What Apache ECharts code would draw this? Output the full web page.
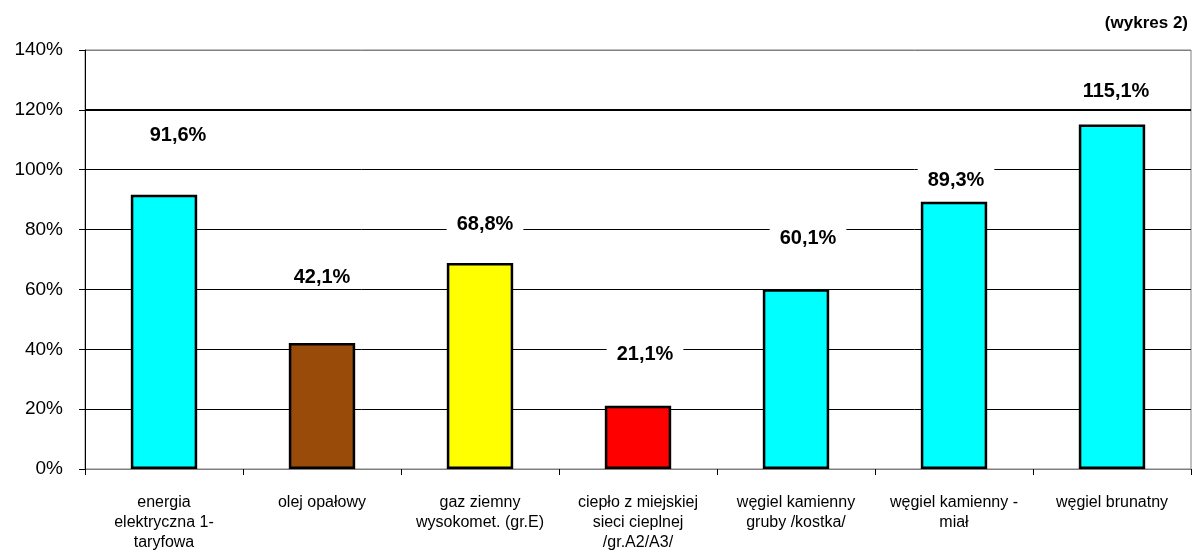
<!DOCTYPE html>
<html>
<head>
<meta charset="utf-8">
<script src="https://cdn.jsdelivr.net/npm/echarts@6/dist/echarts.min.js"></script>
<style>
html,body{margin:0;padding:0;background:#fff;}
#main{width:1193px;height:553px;}
</style>
</head>
<body>
<div id="main"></div>
<script>
const categories = [
  "energia\nelektryczna 1-\ntaryfowa",
  "olej opałowy",
  "gaz ziemny\nwysokomet. (gr.E)",
  "ciepło z miejskiej\nsieci cieplnej\n/gr.A2/A3/",
  "węgiel kamienny\ngruby /kostka/",
  "węgiel kamienny -\nmiał",
  "węgiel brunatny"
];
const values = [91.6, 42.1, 68.8, 21.1, 60.1, 89.3, 115.1];
const barColors = ["#00FFFF", "#994C0A", "#FFFF00", "#FF0000", "#00FFFF", "#00FFFF", "#00FFFF"];
const yTicks = [0, 20, 40, 60, 80, 100, 120, 140];
const noteText = "(wykres 2)";

// label placement tweaks (pixels): [dx, lift above bar top]
const labelShift = [[14, 47], [0, 54], [5, 27], [7, 39], [12, 39], [2, 9], [4, 21]];

const chart = echarts.init(document.getElementById('main'));
const option = {
  animation: false,
  backgroundColor: '#fff',
  graphic: [{
    type: 'text', right: 5, top: 15,
    style: { text: noteText, font: 'bold 17px "Liberation Sans", Arial, sans-serif', fill: '#000' }
  }],
  grid: { left: 85, right: 2, top: 50, bottom: 83, show: true, borderColor: '#808080', borderWidth: 1, backgroundColor: '#fff' },
  xAxis: {
    type: 'category',
    data: categories,
    axisLine: { show: true, lineStyle: { color: '#808080', width: 1 } },
    axisTick: { show: true, length: 6, lineStyle: { color: '#000' } },
    axisLabel: { interval: 0, margin: 24, fontSize: 16, lineHeight: 20, color: '#000', fontFamily: '"Liberation Sans", Arial, sans-serif' },
    splitLine: { show: false }
  },
  yAxis: {
    type: 'value',
    min: yTicks[0], max: yTicks[yTicks.length - 1], interval: 20,
    axisLine: { show: true, lineStyle: { color: '#000', width: 1 } },
    axisTick: { show: true, length: 6, lineStyle: { color: '#000' } },
    axisLabel: { formatter: '{value}%', fontSize: 19, margin: 22, color: '#000', fontFamily: '"Liberation Sans", Arial, sans-serif' },
    splitLine: { show: true, lineStyle: { color: ['#000','#000','#000','#000','#000','#000','#000','#808080'], width: 1 } }
  },
  series: [{
    type: 'bar',
    barWidth: '42%',
    data: values.map((v, i) => ({
      value: v,
      itemStyle: { color: barColors[i], borderColor: '#000', borderWidth: 2.5 },
      label: { offset: [labelShift[i][0], -labelShift[i][1]] }
    })),
    label: {
      show: true,
      position: 'top',
      distance: 0,
      formatter: p => p.value.toFixed(1).replace('.', ',') + '%',
      fontSize: 20,
      fontWeight: 'bold',
      color: '#000',
      fontFamily: '"Liberation Sans", Arial, sans-serif',
      backgroundColor: '#fff',
      padding: [2, 10]
    },
    markLine: {
      silent: true,
      symbol: 'none',
      label: { show: false },
      lineStyle: { color: '#000', width: 2, type: 'solid' },
      data: [{ yAxis: 120 }],
      z: 1
    }
  }]
};
chart.setOption(option);
</script>
</body>
</html>
